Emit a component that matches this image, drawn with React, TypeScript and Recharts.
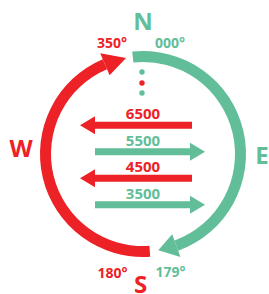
import React from "react";
import { PieChart, Pie, Cell, BarChart, Bar, XAxis, YAxis } from "recharts";

const RED = "#EC2227";
const GREEN = "#62BE98";
const FONT = "'Open Sans', 'DejaVu Sans', sans-serif";

const W = 269;
const H = 294;
const CX = 143;
const CY = 154;

// ring around the compass, clockwise from the green start (354° compass)
const ringStart = 354;
const ringNames = ["eastShaft", "eastHead", "gapSouth", "westShaft", "westHead", "gapNorth"];
const ringDegrees = [166, 11, 5, 161, 13, 4];
const ringColors = [GREEN, GREEN, "none", RED, RED, "none"];
const ringHeads = [false, true, false, false, true, false];

// horizontal arrows (values relative to compass centre)
const arrowLabels = ["6500", "5500", "4500", "3500"];
const arrowFrom = [49, -48, 49, -48];
const arrowTo = [-63, 62, -63, 62];
const arrowColors = [RED, GREEN, RED, GREEN];

// letters and degree tags, placed by compass angle / radius
const compassText = ["N", "E", "S", "W"];
const compassAngle = [0, 90, 181, 273];
const compassRadius = [134, 119, 130, 122];
const compassColor = [GREEN, GREEN, RED, RED];

const degreeText = ["350°", "000°", "180°", "179°"];
const degreeAngle = [344.5, 13.6, 194.5, 166.9];
const degreeRadius = [116, 115, 122, 121];
const degreeColor = [RED, GREEN, RED, GREEN];

// dots under N
const dotRadius = [82, 71, 61];
const dotColors = [GREEN, RED, GREEN];

const polar = (r: number, compassDeg: number) => {
  const a = (compassDeg * Math.PI) / 180;
  return { x: CX + r * Math.sin(a), y: CY - r * Math.cos(a) };
};

const ringData = ringNames.map((name, i) => ({
  name,
  value: ringDegrees[i],
  color: ringColors[i],
  head: ringHeads[i],
}));

const arrowData = arrowLabels.map((label, i) => ({
  label,
  from: arrowFrom[i],
  to: arrowTo[i],
  span: [Math.min(arrowFrom[i], arrowTo[i]), Math.max(arrowFrom[i], arrowTo[i])],
  color: arrowColors[i],
}));

// arrowhead drawn on the ring segments flagged as heads
const renderHead = (props: any) => {
  const { cx, cy, innerRadius, outerRadius, startAngle, endAngle, payload, index } = props;
  const seg = payload?.payload ?? payload;
  if (!seg || !seg.head) return <g key={`h${index}`} />;
  const rad = Math.PI / 180;
  const rm = (innerRadius + outerRadius) / 2;
  const half = 12;
  const pt = (r: number, a: number) => `${cx + r * Math.cos(-a * rad)},${cy + r * Math.sin(-a * rad)}`;
  const pts = [pt(rm + half, startAngle), pt(rm, endAngle), pt(rm - half, startAngle)].join(" ");
  return <polygon key={`h${index}`} points={pts} fill={seg.color} />;
};

const ArrowShape = (props: any) => {
  const { x, y, width, height, payload } = props;
  const mid = y + height / 2;
  const left = x;
  const right = x + width;
  const toLeft = payload.to < payload.from;
  const shaft = 3.5;
  const headLen = 15;
  const headHalf = 9;
  let pts: string;
  if (toLeft) {
    pts = [
      [right, mid - shaft], [left + headLen, mid - shaft], [left + headLen, mid - headHalf],
      [left, mid], [left + headLen, mid + headHalf], [left + headLen, mid + shaft], [right, mid + shaft],
    ].map((p) => p.join(",")).join(" ");
  } else {
    pts = [
      [left, mid - shaft], [right - headLen, mid - shaft], [right - headLen, mid - headHalf],
      [right, mid], [right - headLen, mid + headHalf], [right - headLen, mid + shaft], [left, mid + shaft],
    ].map((p) => p.join(",")).join(" ");
  }
  const [lo, hi] = payload.span;
  const zeroX = x + (width * (0 - lo)) / (hi - lo);
  return (
    <g>
      <polygon points={pts} fill={payload.color} />
      <text x={zeroX} y={mid - 12} textAnchor="middle" dominantBaseline="central"
        fontFamily={FONT} fontWeight={700} fontSize={15} fill={payload.color}>
        {payload.label}
      </text>
    </g>
  );
};

export default function App() {
  return (
    <div style={{ position: "relative", width: W, height: H, background: "#fff" }}>
      <style>{"body{margin:0}"}</style>
      <div style={{ position: "absolute", left: 0, top: 0 }}>
        <PieChart width={W} height={H} margin={{ top: 0, right: 0, bottom: 0, left: 0 }}>
          <Pie
            data={ringData}
            dataKey="value"
            cx={CX}
            cy={CY}
            innerRadius={92}
            outerRadius={103}
            startAngle={90 - ringStart + 360}
            endAngle={90 - ringStart}
            stroke="none"
            label={renderHead}
            labelLine={false}
            isAnimationActive={false}
          >
            {ringData.map((d, i) => (
              <Cell key={i} fill={d.head ? "none" : d.color} />
            ))}
          </Pie>
          <g>
            {dotRadius.map((r, i) => {
              const p = polar(r, 0);
              return <circle key={`d${i}`} cx={p.x - 1} cy={p.y} r={2.7} fill={dotColors[i]} />;
            })}
            {compassText.map((t, i) => {
              const p = polar(compassRadius[i], compassAngle[i]);
              return (
                <text key={t} x={p.x} y={p.y} textAnchor="middle" dominantBaseline="central"
                  fontFamily={FONT} fontWeight={700} fontSize={24} fill={compassColor[i]}>
                  {t}
                </text>
              );
            })}
            {degreeText.map((t, i) => {
              const p = polar(degreeRadius[i], degreeAngle[i]);
              return (
                <text key={t} x={p.x} y={p.y} textAnchor="middle" dominantBaseline="central"
                  fontFamily={FONT} fontWeight={700} fontSize={14} fill={degreeColor[i]}>
                  {t}
                </text>
              );
            })}
          </g>
        </PieChart>
      </div>
      <div style={{ position: "absolute", left: 0, top: 0 }}>
        <BarChart width={W} height={H} data={arrowData} layout="vertical"
          margin={{ top: 112, right: 26, bottom: 76, left: 43 }}>
          <XAxis type="number" domain={[-100, 100]} hide />
          <YAxis type="category" dataKey="label" hide />
          <Bar dataKey="span" shape={<ArrowShape />} isAnimationActive={false} />
        </BarChart>
      </div>
    </div>
  );
}
